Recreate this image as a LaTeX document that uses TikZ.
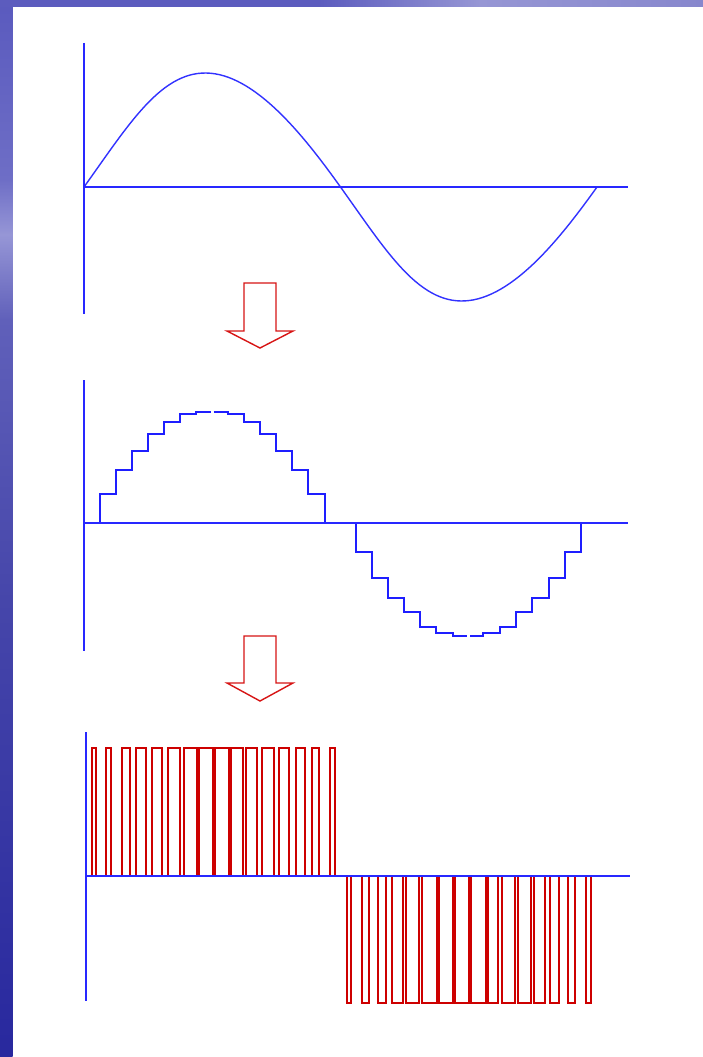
\documentclass[tikz,border=0pt]{standalone}
\begin{document}
\begin{tikzpicture}[x=1pt,y=-1pt,
  axis/.style={draw={rgb,255:red,40;green,40;blue,255}, line width=2pt},
  wave/.style={draw={rgb,255:red,50;green,50;blue,255}, line width=1.4pt},
  stepwave/.style={draw={rgb,255:red,30;green,30;blue,255}, line width=2pt},
  pulse/.style={draw={rgb,255:red,205;green,0;blue,0}, line width=2pt},
  bigarrow/.style={draw={rgb,255:red,215;green,20;blue,20}, fill=white, line width=1.4pt, line join=miter}]
\definecolor{bA}{RGB}{90,90,190}
\definecolor{bB}{RGB}{110,110,198}
\definecolor{bC}{RGB}{150,150,214}
\definecolor{bD}{RGB}{96,96,186}
\definecolor{bE}{RGB}{70,70,170}
\definecolor{bF}{RGB}{40,40,158}
\definecolor{tA}{RGB}{92,92,190}
\definecolor{tB}{RGB}{150,150,212}
\definecolor{tC}{RGB}{135,135,205}
\useasboundingbox (0,0) rectangle (703,1057);
\fill[white] (0,0) rectangle (703,1057);
% background border
\shade[top color=bA, bottom color=bB] (0,0) rectangle (12.5,180);
\shade[top color=bB, bottom color=bC] (0,179.5) rectangle (12.5,235);
\shade[top color=bC, bottom color=bD] (0,234.5) rectangle (12.5,320);
\shade[top color=bD, bottom color=bE] (0,319.5) rectangle (12.5,600);
\shade[top color=bE, bottom color=bF] (0,599.5) rectangle (12.5,1057);
\fill[tA] (0,0) rectangle (320,7);
\shade[left color=tA, right color=tB] (319.5,0) rectangle (480,7);
\shade[left color=tB, right color=tC] (479.5,0) rectangle (703,7);
% ---------- top panel: sine
\draw[wave] plot[domain=0:360, samples=120] ({84+\x*1.425-7*sin(\x)*sin(\x)},{187-114*sin(\x)});
\draw[axis] (84,43) -- (84,314);
\draw[axis] (84,187) -- (628,187);
% arrow 1
\draw[bigarrow] (244,283) -- (276,283) -- (276,331) -- (293,331) -- (260,348) -- (227,331) -- (244,331) -- cycle;
% ---------- middle panel: staircase
\draw[stepwave] (100,523) -- (100,494) -- (116,494) -- (116,470) -- (132,470) -- (132,451) -- (148,451) -- (148,434) -- (164,434) -- (164,422) -- (180,422) -- (180,414) -- (196,414) -- (196,412) -- (211,412);
\draw[stepwave] (213.5,412) -- (228,412) -- (228,414) -- (244,414) -- (244,422) -- (260,422) -- (260,434) -- (276,434) -- (276,451) -- (292,451) -- (292,470) -- (308,470) -- (308,494) -- (325,494) -- (325,523);
\draw[stepwave] (356,523) -- (356,552) -- (372,552) -- (372,578) -- (388,578) -- (388,598) -- (404,598) -- (404,612) -- (420,612) -- (420,627) -- (436,627) -- (436,633) -- (453,633) -- (453,636) -- (467,636);
\draw[stepwave] (470,636) -- (483,636) -- (483,633) -- (500,633) -- (500,627) -- (516,627) -- (516,612) -- (532,612) -- (532,598) -- (549,598) -- (549,578) -- (565,578) -- (565,552) -- (581,552) -- (581,523);
\draw[axis] (84,380) -- (84,651);
\draw[axis] (84,523) -- (628,523);
% arrow 2
\draw[bigarrow] (244,636) -- (276,636) -- (276,683) -- (293,683) -- (260,701) -- (227,683) -- (244,683) -- cycle;
% ---------- bottom panel: PWM
\foreach \a/\b in {92/96, 106/111, 122/130, 136/146, 152/162, 168/180, 184/197, 199/213, 215/229, 231/243, 246/257, 262/274, 279/289, 296/305, 312/319, 330/335}
  \draw[pulse] (\a,876) -- (\a,748) -- (\b,748) -- (\b,876);
\foreach \a/\b in {347/351, 362/369, 378/386, 392/403, 406/419, 422/437, 439/453, 455/469, 471/486, 488/498, 502/515, 518/531, 534/545, 550/559, 568/575, 586/591}
  \draw[pulse] (\a,876) -- (\a,1003) -- (\b,1003) -- (\b,876);
\draw[axis] (86,732) -- (86,1001);
\draw[axis] (86,876) -- (630,876);
\end{tikzpicture}
\end{document}
